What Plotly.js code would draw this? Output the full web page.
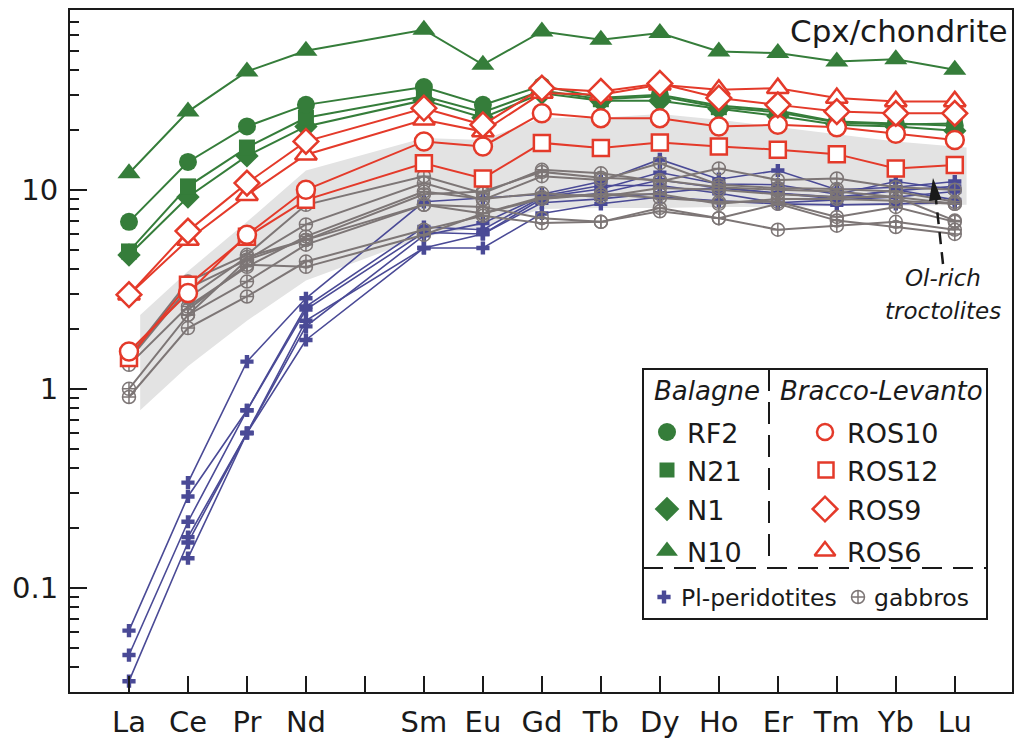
<!DOCTYPE html>
<html><head><meta charset="utf-8">
<script src="https://cdn.plot.ly/plotly-3.0.1.min.js"></script>
<style>html,body{margin:0;padding:0;background:#fff;} #chart{width:1021px;height:746px;}</style>
</head><body><div id="chart"></div>
<script>
// ---- categories ----
const elements   = ['La','Ce','Pr','Nd','Pm','Sm','Eu','Gd','Tb','Dy','Ho','Er','Tm','Yb','Lu'];
const tickLabels = ['La','Ce','Pr','Nd','','Sm','Eu','Gd','Tb','Dy','Ho','Er','Tm','Yb','Lu'];
const measured   = ['La','Ce','Pr','Nd','Sm','Eu','Gd','Tb','Dy','Ho','Er','Tm','Yb','Lu'];

// ---- Balagne (green) ----
const RF2  = [6.9, 13.8, 20.8, 26.7, 32.8, 26.7, 33.3, 29.0, 30.0, 26.5, 25.0, 22.0, 21.5, 21.0];
const N21  = [4.9, 10.4, 16.3, 23.0, 29.5, 24.5, 31.5, 28.5, 29.5, 26.0, 24.5, 21.8, 21.3, 21.5];
const N1   = [4.7, 9.2, 14.8, 20.8, 28.2, 23.0, 30.5, 28.0, 28.0, 25.5, 23.5, 21.2, 20.8, 19.8];
const N10  = [12.1, 24.7, 39.3, 49.9, 63.7, 42.5, 62.4, 56.7, 61.3, 49.5, 48.6, 44.1, 45.2, 40.1];

// ---- Bracco-Levanto (red) ----
const ROS10 = [1.54, 3.03, 5.94, 10.0, 17.5, 16.5, 24.2, 22.9, 22.9, 20.8, 21.2, 20.6, 19.1, 17.8];
const ROS12 = [1.43, 3.33, 5.8, 8.9, 13.6, 11.4, 17.2, 16.2, 17.3, 16.5, 15.9, 15.1, 12.8, 13.3];
const ROS9  = [2.97, 6.2, 10.8, 17.5, 25.7, 21.2, 32.4, 31.2, 34.2, 28.9, 26.7, 24.7, 24.2, 24.2];
const ROS6  = [2.97, 5.6, 9.4, 15.0, 22.5, 19.6, 30.6, 30.0, 33.7, 31.8, 32.4, 28.9, 27.8, 27.8];

// ---- Pl-peridotites (blue) ----
const P1 = [null, 0.338, 1.37, 2.85, 8.7, 9.1, 9.5, 11.0, 14.2, 11.3, 12.5, 10.0, 10.3, 11.0];
const P2 = [0.061, 0.288, 0.78, 2.59, 6.5, 6.3, 9.2, 10.1, 12.2, 10.7, 10.6, 9.5, 11.0, 10.0];
const P3 = [0.046, 0.215, 0.78, 2.5, 6.1, 6.0, 9.0, 9.6, 11.2, 10.2, 9.6, 9.0, 10.0, 8.9];
const P4 = [null, 0.180, 0.60, 2.06, 5.9, 6.8, 9.3, 10.5, 10.5, 9.6, 8.6, 8.9, 9.2, 9.8];
const P5 = [0.034, 0.169, 0.60, 1.76, 5.1, 5.1, 7.6, 8.5, 9.2, 8.8, 8.5, 8.4, 8.5, 8.6];
const P6 = [null, 0.141, 0.60, 2.2, 5.1, 6.0, 8.6, 9.0, 9.6, 10.3, 9.6, 9.2, 9.9, 10.4];

// ---- gabbros (grey) ----
const G1 = [1.45, 3.46, 4.71, 8.4, 11.7, 9.6, 12.6, 12.1, 11.0, 12.8, 11.2, 11.4, 10.3, 10.0];
const G2 = [1.40, 3.2, 4.45, 6.7, 10.8, 8.9, 11.7, 11.2, 13.6, 10.6, 10.2, 10.1, 9.8, 8.7];
const G3 = [1.32, 2.59, 4.1, 5.83, 9.8, 9.0, 9.6, 9.2, 10.2, 10.0, 9.5, 9.2, 9.2, 8.5];
const G4 = [null, 2.35, 4.45, 5.6, 8.4, 7.6, 9.2, 9.5, 9.1, 8.7, 8.7, 7.3, 8.2, 6.9];
const G5 = [1.0, 2.35, 3.46, 5.3, 8.4, 8.2, 7.2, 6.9, 8.1, 7.2, 6.3, 6.6, 6.9, 6.3];
const G6 = [0.91, 2.02, 2.91, 4.36, 6.3, 7.4, 6.8, 6.9, 7.8, 7.2, 8.5, 7.0, 6.5, 6.0];
const G7 = [null, 2.5, 4.2, 4.1, 5.94, 7.6, 9.0, 9.5, 9.5, 8.5, 9.0, 9.0, 8.8, 8.5];
const G8 = [null, 2.86, 4.6, 5.6, 9.5, 9.8, 12.3, 11.5, 11.2, 10.3, 10.0, 9.8, 9.2, 7.0];

// ---- grey envelope (Ol-rich troctolites field) ----
const bandUpper = [2.35, 3.9, 6.9, 12.5, 18.2, 17.8, 23, 23, 24, 22.5, 20.7, 19, 17.5, 16.3];
const bandLower = [0.78, 1.3, 2.2, 3.5, 5.8, 6.5, 8.0, 8.1, 8.1, 8.2, 8.2, 8.3, 8.3, 8.4];

// ---- y ticks ----
const yMajor = [0.1, 1, 10];
const yMajorText = ['0.1', '1', '10'];
const yMinor = [0.04,0.05,0.06,0.07,0.08,0.09,0.2,0.3,0.4,0.5,0.6,0.7,0.8,0.9,2,3,4,5,6,7,8,9,20,30,40,50,60,70,80];

// ================= drawing =================
const FONT = 'DejaVu Sans';
const GREEN = '#357d3a', RED = '#e43a2a', BLUE = '#4a4a96', GREY = '#7d7676', INK = '#1a1a1a';
const xPos = measured.map(e => elements.indexOf(e));

const traces = [];
// envelope
const bx = xPos.slice(); bx[0] += 0.19; bx[bx.length-1] += 0.2;
traces.push({x: bx.concat(bx.slice().reverse()), y: bandUpper.concat(bandLower.slice().reverse()),
  type:'scatter', mode:'lines', fill:'toself', fillcolor:'#e3e3e3', line:{width:0, color:'#e3e3e3'},
  hoverinfo:'skip', showlegend:false});

function series(vals, color, lw, symbol, size, mline, mfill){
  return {x: xPos, y: vals, type:'scatter', mode:'lines+markers', connectgaps:false, showlegend:false,
    line:{color:color, width:lw},
    marker:{symbol:symbol, size:size, opacity:1, color: mfill || color, line:{color:color, width:mline}}};
}
[P1,P2,P3,P4,P5,P6].forEach(s => traces.push(series(s, BLUE, 1.6, 'cross', 11, 0)));
[G1,G2,G3,G4,G5,G6,G7,G8].forEach(s => traces.push(series(s, GREY, 2, 'circle-cross-open', 13, 1.5)));
traces.push(series(N10, GREEN, 2, 'triangle-up', 20, 0));
traces.push(series(N1,  GREEN, 2, 'diamond', 18, 0));
traces.push(series(N21, GREEN, 2, 'square', 16, 0));
traces.push(series(RF2, GREEN, 2, 'circle', 18, 0));
traces.push(series(ROS12, RED, 2, 'square', 16, 2.5, '#ffffff'));
traces.push(series(ROS10, RED, 2, 'circle', 18, 2.5, '#ffffff'));
traces.push(series(ROS6,  RED, 2, 'triangle-up', 19, 2.5, '#ffffff'));
traces.push(series(ROS9,  RED, 2, 'diamond', 19, 2.5, '#ffffff'));

// ---- custom legend (paper-like overlay axes) ----
const L = 70, R = 1012, T = 10, B = 692;
const px = v => (v - L) / (R - L);
const py = v => (B - v) / (B - T);
const legItems = [
  {x:667, y:432, s:'circle', c:GREEN, f:GREEN, sz:18, t:'RF2'},
  {x:667, y:470, s:'square', c:GREEN, f:GREEN, sz:15, t:'N21'},
  {x:667, y:509, s:'diamond', c:GREEN, f:GREEN, sz:19, t:'N1'},
  {x:667, y:551, s:'triangle-up', c:GREEN, f:GREEN, sz:19, t:'N10'},
  {x:825, y:432, s:'circle', c:RED, f:'#fff', sz:16, t:'ROS10'},
  {x:826, y:470, s:'square', c:RED, f:'#fff', sz:15, t:'ROS12'},
  {x:825, y:509, s:'diamond', c:RED, f:'#fff', sz:19, t:'ROS9'},
  {x:825, y:551, s:'triangle-up', c:RED, f:'#fff', sz:18, t:'ROS6'}
];
traces.push({x: legItems.map(d=>px(d.x)), y: legItems.map(d=>py(d.y)), xaxis:'x2', yaxis:'y2',
  type:'scatter', mode:'markers', showlegend:false, hoverinfo:'skip',
  marker:{symbol: legItems.map(d=>d.s), size: legItems.map(d=>d.sz), color: legItems.map(d=>d.f), opacity:1,
          line:{color: legItems.map(d=>d.c), width: legItems.map(d=>d.f==='#fff'?2.5:0)}}});
traces.push({x:[px(664)], y:[py(597)], xaxis:'x2', yaxis:'y2', type:'scatter', mode:'markers',
  showlegend:false, hoverinfo:'skip', marker:{symbol:'cross', size:11, color:BLUE, opacity:1}});
traces.push({x:[px(858)], y:[py(597)], xaxis:'x2', yaxis:'y2', type:'scatter', mode:'markers',
  showlegend:false, hoverinfo:'skip', marker:{symbol:'circle-cross-open', size:13, color:GREY, opacity:1, line:{width:1.5, color:GREY}}});

const annotations = [
  {text:'Cpx/chondrite', x:px(1010), y:py(31), xanchor:'right', yanchor:'middle', font:{size:31}},
  {text:'<i>Ol-rich</i>', x:px(943), y:py(278), xanchor:'center', yanchor:'middle', font:{size:23}},
  {text:'<i>troctolites</i>', x:px(943), y:py(311), xanchor:'center', yanchor:'middle', font:{size:23}},
  {text:'<i>Balagne</i>', x:px(707), y:py(391), xanchor:'center', yanchor:'middle', font:{size:26}},
  {text:'<i>Bracco-Levanto</i>', x:px(881), y:py(391), xanchor:'center', yanchor:'middle', font:{size:26}},
  {text:'Pl-peridotites', x:px(679), y:py(598), xanchor:'left', yanchor:'middle', font:{size:23.5}},
  {text:'gabbros', x:px(872), y:py(598), xanchor:'left', yanchor:'middle', font:{size:23.5}}
].concat(legItems.map(d => ({text:d.t, x:px(d.x < 700 ? 685 : 845), y:py(d.y+1), xanchor:'left', yanchor:'middle', font:{size:27}})));
annotations.forEach(a => { a.xref='paper'; a.yref='paper'; a.showarrow=false; a.font.family=FONT; a.font.color=INK; });

// arrow: dashed shaft + filled head
const tip = [933,178], base1 = [941.6,199.5], base2 = [929.0,201.0];
const shapes = [
  {type:'rect', xref:'paper', yref:'paper', x0:px(643), x1:px(987), y0:py(619), y1:py(369), layer:'below',
   fillcolor:'#ffffff', line:{color:INK, width:2}},
  {type:'line', xref:'paper', yref:'paper', x0:px(643), x1:px(987), y0:py(568), y1:py(568),
   line:{color:INK, width:2, dash:'20px,11px'}},
  {type:'line', xref:'paper', yref:'paper', x0:px(769), x1:px(769), y0:py(369), y1:py(568),
   line:{color:INK, width:2, dash:'22px,11px'}},
  {type:'line', xref:'paper', yref:'paper', x0:px(943), x1:px(936), y0:py(264), y1:py(200),
   line:{color:INK, width:2.5, dash:'12px,8px'}},
  {type:'path', xref:'paper', yref:'paper', fillcolor:INK, line:{width:0},
   path:`M ${px(tip[0])} ${py(tip[1])} L ${px(base1[0])} ${py(base1[1])} L ${px(base2[0])} ${py(base2[1])} Z`}
];

const layout = {
  width:1021, height:746, margin:{l:L, r:1021-R, t:T, b:746-B, pad:0},
  paper_bgcolor:'#ffffff', plot_bgcolor:'#ffffff', showlegend:false,
  font:{family:FONT, color:INK},
  xaxis:{range:[-1, 14.97], tickmode:'array', tickvals: elements.map((e,i)=>i), ticktext: tickLabels,
    ticks:'inside', ticklen:16, tickwidth:2, tickcolor:INK, showline:true, linewidth:2, linecolor:INK,
    mirror:true, showgrid:false, zeroline:false, tickfont:{family:FONT, size:29, color:INK}, ticklabelstandoff:3},
  yaxis:{type:'log', range:[Math.log10(0.03), Math.log10(80)], tickmode:'array', tickvals:yMajor, ticktext:yMajorText,
    ticks:'inside', ticklen:17, tickwidth:2, tickcolor:INK, showline:true, linewidth:2, linecolor:INK,
    mirror:true, showgrid:false, zeroline:false, tickfont:{family:FONT, size:29, color:INK}, ticklabelstandoff:4,
    minor:{ticks:'inside', ticklen:9, tickwidth:2, tickcolor:INK, tickmode:'array', tickvals:yMinor, showgrid:false}},
  xaxis2:{overlaying:'x', anchor:'y2', range:[0,1], visible:false, fixedrange:true},
  yaxis2:{overlaying:'y', anchor:'x2', range:[0,1], visible:false, fixedrange:true},
  annotations: annotations, shapes: shapes
};
Plotly.newPlot('chart', traces, layout, {staticPlot:true, displayModeBar:false});
</script></body></html>
